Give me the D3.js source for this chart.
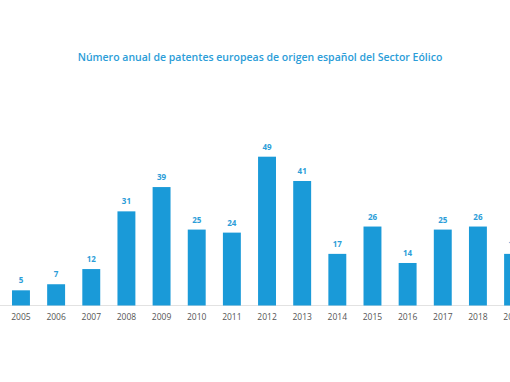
<!DOCTYPE html>
<html>
<head>
<meta charset="utf-8">
<script src="https://cdn.jsdelivr.net/npm/d3@7"></script>
<style>
  body { margin: 0; background: #fff; }
  svg { display: block; }
  .title { font-family: "Open Sans", sans-serif; font-size: 10.5px; font-weight: 600; fill: #2b9dd8; }
  .value_labels { font-family: "Open Sans", sans-serif; font-size: 8px; font-weight: 700; fill: #2b9dd8; }
  .year_labels { font-family: "Open Sans", sans-serif; font-size: 8.5px; fill: #555; }
</style>
</head>
<body>
<svg id="svg-patentes" width="510" height="382"></svg>
<script>
var years = ["2005","2006","2007","2008","2009","2010","2011","2012","2013","2014","2015","2016","2017","2018","2019"];
var patents = [5, 7, 12, 31, 39, 25, 24, 49, 41, 17, 26, 14, 25, 26, 17];

var svg = d3.select("#svg-patentes");
var w = 510;
var baseline = 305.5;
var blue = "#1a9ad8";

var dataset = years.map(function(y, i) { return {year: y, value: patents[i]}; });

var xScale = d3.scaleBand()
    .domain(years)
    .range([3.4, 3.4 + 15*35.15])
    .paddingInner(0.49)
    .paddingOuter(0.245);

var yScale = d3.scaleLinear()
    .domain([0, 49])
    .range([baseline, 156.7]);

svg.append("text")
    .attr("class", "title")
    .attr("x", 260)
    .attr("y", 61)
    .style("text-anchor", "middle")
    .text("Número anual de patentes europeas de origen español del Sector Eólico");

svg.append("line")
    .attr("x1", 0)
    .attr("x2", w)
    .attr("y1", baseline)
    .attr("y2", baseline)
    .style("stroke", "#e2e2e2")
    .style("stroke-width", 1);

svg.selectAll("bars")
    .data(dataset)
    .enter()
    .append("rect")
    .attr("x", function(d) { return xScale(d.year); })
    .attr("y", function(d) { return yScale(d.value); })
    .attr("width", xScale.bandwidth())
    .attr("height", function(d) { return baseline - yScale(d.value); })
    .style("fill", blue);

svg.selectAll("value_labels")
    .data(dataset)
    .enter()
    .append("text")
    .attr("class", "value_labels")
    .attr("x", function(d) { return xScale(d.year) + xScale.bandwidth()/2; })
    .attr("y", function(d) { return yScale(d.value) - 7; })
    .style("text-anchor", "middle")
    .text(function(d) { return d.value; });

svg.selectAll("year_labels")
    .data(dataset)
    .enter()
    .append("text")
    .attr("class", "year_labels")
    .attr("x", function(d) { return xScale(d.year) + xScale.bandwidth()/2; })
    .attr("y", 320)
    .style("text-anchor", "middle")
    .text(function(d) { return d.year; });
</script>
</body>
</html>
